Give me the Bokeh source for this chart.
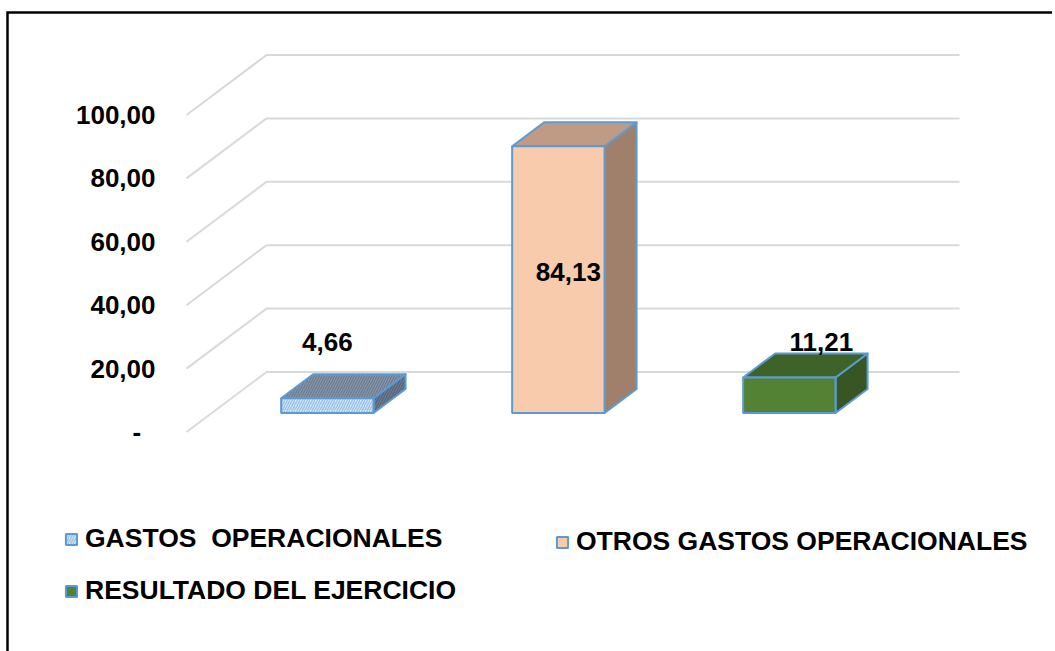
from bokeh.plotting import figure
from bokeh.models import Range1d, LinearAxis, FixedTicker, Legend, LegendItem
from bokeh.core.properties import value
from bokeh.embed import file_html
from bokeh.resources import INLINE

# ---------------- data ----------------
categories = ["GASTOS  OPERACIONALES", "OTROS GASTOS OPERACIONALES", "RESULTADO DEL EJERCICIO"]
values = [4.66, 84.13, 11.21]
value_labels = ["4,66", "84,13", "11,21"]
y_ticks = [0, 20, 40, 60, 80, 100]
y_tick_labels = ["-\u00a0\u00a0", "20,00", "40,00", "60,00", "80,00", "100,00"]

# ---------------- styles ----------------
front_colors = ["#dbe8f5", "#f8cbad", "#548235"]
top_colors = ["#8797ab", "#bf9a84", "#3e6228"]
side_colors = ["#6d7c8f", "#a0806a", "#375623"]
hatch_patterns = ["/", " ", " "]
front_hatch_colors = ["#9dc3e6", None, None]
top_hatch_colors = ["#6b7a8e", None, None]
side_hatch_colors = ["#56637a", None, None]
edge_color = "#5b9bd5"
label_dx = [0, 10, 32]
label_dy = [-56, 126, -35]
FONT = "Liberation Sans"

W, H = 1052, 651
PX_X = 231.0      # pixels per category
PX_Y = 3.17       # pixels per value unit
DEPTH_DX, DEPTH_DY = 80.0, 60.0
KX = DEPTH_DX / PX_X
KY = DEPTH_DY / PX_Y
X0, Y0 = 186.0, 431.5  # canvas px of front-left floor corner
Z_FRONT, Z_BACK = 0.317, 0.717
HALF = 0.2

x_start, x_end = -X0 / PX_X, (W - X0) / PX_X
y_start, y_end = -(H - Y0) / PX_Y, Y0 / PX_Y
p = figure(width=W, height=H,
           x_range=Range1d(x_start, x_end),
           y_range=Range1d(y_start, y_end),
           output_backend="svg", toolbar_location=None, min_border=0,
           x_axis_type=None, y_axis_type=None,
           outline_line_color=None, background_fill_color="white",
           border_fill_color="white")
p.grid.visible = False


def proj(x, z, v):
    return x + z * KX, v + z * KY


# gridlines: side wall diagonal + back wall horizontal
n = len(categories)
gx, gy = [], []
for t in y_ticks:
    a = proj(0, 0, t)
    b = proj(0, 1, t)
    c = proj(n, 1, t)
    gx.append([a[0], b[0], c[0]])
    gy.append([a[1], b[1], c[1]])
p.multi_line(gx, gy, line_color="#d9d9d9", line_width=2)

front_renderers = []
for i, v in enumerate(values):
    xl, xr = i + 0.5 - HALF, i + 0.5 + HALF
    # side face
    pts = [proj(xr, Z_FRONT, 0), proj(xr, Z_BACK, 0), proj(xr, Z_BACK, v), proj(xr, Z_FRONT, v)]
    kw = {}
    if front_hatch_colors[i]:
        kw = dict(hatch_pattern=hatch_patterns[i], hatch_color=side_hatch_colors[i], hatch_scale=5, hatch_weight=1.2)
    p.patch([q[0] for q in pts], [q[1] for q in pts], fill_color=side_colors[i],
            line_color=edge_color, line_width=2, line_join="round", **kw)
    # top face
    pts = [proj(xl, Z_FRONT, v), proj(xr, Z_FRONT, v), proj(xr, Z_BACK, v), proj(xl, Z_BACK, v)]
    kw = {}
    if front_hatch_colors[i]:
        kw = dict(hatch_pattern=hatch_patterns[i], hatch_color=top_hatch_colors[i], hatch_scale=5, hatch_weight=1.2)
    p.patch([q[0] for q in pts], [q[1] for q in pts], fill_color=top_colors[i],
            line_color=edge_color, line_width=2, line_join="round", **kw)
    # front face
    l, b = proj(xl, Z_FRONT, 0)
    r, t = proj(xr, Z_FRONT, v)
    kw = {}
    if front_hatch_colors[i]:
        kw = dict(hatch_pattern=hatch_patterns[i], hatch_color=front_hatch_colors[i], hatch_scale=5, hatch_weight=1.5)
    fr = p.quad(left=[l], right=[r], bottom=[b], top=[t], fill_color=front_colors[i],
                line_color=edge_color, line_width=2, **kw)
    front_renderers.append(fr)

# data labels
lx = [proj(i + 0.5, Z_FRONT, v)[0] for i, v in enumerate(values)]
ly = [proj(i + 0.5, Z_FRONT, v)[1] for i, v in enumerate(values)]
p.text(x=lx, y=ly, text=value_labels, x_offset=label_dx, y_offset=label_dy,
       text_font=value(FONT), text_font_style="bold", text_font_size="26px",
       text_color="black", text_align="center", text_baseline="middle")

# value axis (front plane)
yaxis = LinearAxis(fixed_location=0, ticker=FixedTicker(ticks=y_ticks),
                   major_label_overrides={t: s for t, s in zip(y_ticks, y_tick_labels)},
                   axis_line_color=None, major_tick_line_color=None, minor_tick_line_color=None,
                   major_tick_out=0, major_tick_in=0, major_label_standoff=31,
                   major_label_text_font=FONT, major_label_text_font_style="bold",
                   major_label_text_font_size="26px", major_label_text_color="black")
p.add_layout(yaxis, "left")

# chart border (left and top edges of the chart area)
bx = (7 - X0) / PX_X
by = (Y0 - 12) / PX_Y
p.line([bx, bx, x_end + 1], [y_start - 1, by, by], line_color="black", line_width=2.5,
       line_join="miter")

common = dict(border_line_color=None, background_fill_alpha=0, padding=0, margin=0,
              glyph_width=14, glyph_height=14, label_standoff=7, label_height=30,
              label_text_font=FONT, label_text_font_style="bold", label_text_font_size="26.5px",
              label_text_color="black")
leg1 = Legend(items=[LegendItem(label=categories[0], renderers=[front_renderers[0]]),
                     LegendItem(label=categories[2], renderers=[front_renderers[2]])],
              location=(64, H - 606), spacing=21, **common)
leg2 = Legend(items=[LegendItem(label=categories[1], renderers=[front_renderers[1]])],
              location=(555, H - 557), spacing=0, **common)
p.add_layout(leg1)
p.add_layout(leg2)

open("out.html", "w").write(file_html(p, INLINE))
